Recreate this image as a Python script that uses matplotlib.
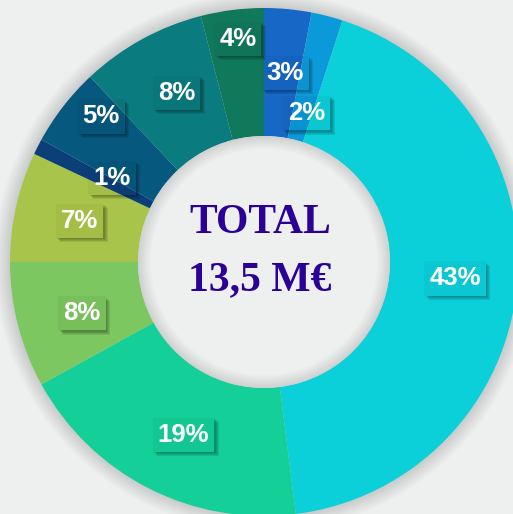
import matplotlib
matplotlib.use("Agg")
import matplotlib.pyplot as plt
from matplotlib.patches import Circle, Wedge, Polygon
import numpy as np

# --- data ---
shares = [3, 2, 43, 19, 8, 7, 1, 5, 8, 4]
labels = ["3%", "2%", "43%", "19%", "8%", "7%", "1%", "5%", "8%", "4%"]
colors = ["#1767C6", "#0A9AD9", "#0BCFD9", "#14CF98", "#7DC760",
          "#A9C44A", "#0C3F78", "#06587F", "#0A7B7E", "#10795C"]
center_lines = ["TOTAL", "13,5 M€"]

# label placement (fraction of outer radius, clockwise angle nudge in deg)
label_r = [0.75, 0.61, 0.755, 0.75, 0.745, 0.745, 0.685, 0.86, 0.75, 0.885]
label_da = [1, 1.5, -0.5, -2, -1.3, 0, 2, 4, 1.5, 0.5]

BG = "#EEF0F0"
W, H = 513, 514
cx, cy = 264, H - 262
r_out, r_in = 254, 126

fig = plt.figure(figsize=(W / 100, H / 100), dpi=100, facecolor=BG)
ax = fig.add_axes([0, 0, 1, 1])
ax.set_facecolor(BG)

# soft outer shadow
for i in range(12):
    ax.add_patch(Circle((cx, cy), r_out + (i + 1) * 1.3, fc="k", alpha=0.012, lw=0, zorder=0))

wedges, _ = ax.pie(shares, colors=colors, startangle=90, counterclock=False,
                   center=(cx, cy), radius=r_out,
                   wedgeprops=dict(width=r_out - r_in, linewidth=0), frame=True)
ax.set_xlim(0, W)
ax.set_ylim(0, H)
ax.set_aspect("equal")
ax.axis("off")

# hole with inner shadow
ax.add_patch(Circle((cx, cy), r_in, fc=BG, lw=0, zorder=3))
for i in range(10):
    ax.add_patch(Wedge((cx, cy), r_in, 0, 360, width=(i + 1) * 1.3,
                       fc="k", alpha=0.012, lw=0, zorder=3))

# percentage labels with translucent boxes
texts = []
for w, lab, rf, da in zip(wedges, labels, label_r, label_da):
    mid = np.deg2rad((w.theta1 + w.theta2) / 2 - da)
    x = cx + rf * r_out * np.cos(mid)
    y = cy + rf * r_out * np.sin(mid)
    t = ax.text(x, y, lab, ha="center", va="center", color="white",
                fontsize=18.5, fontweight="bold", family="Liberation Sans",
                bbox=dict(boxstyle="square,pad=0.2", fc=(0, 0, 0, 0.035), ec="none"),
                zorder=6)
    texts.append(t)

# drop shadow (right + bottom) outside each box
fig.canvas.draw()
inv = ax.transData.inverted()
for t in texts:
    bb = t.get_bbox_patch().get_window_extent()
    (x0, y0), (x1, y1) = inv.transform([[bb.x0, bb.y0], [bb.x1, bb.y1]])
    for d in [1.5, 2.5, 3.5, 4.5]:
        ax.add_patch(Polygon([(x0 + d, y0 - d), (x1 + d, y0 - d), (x1 + d, y1 - d),
                              (x1, y1 - d), (x1, y0), (x0 + d, y0)],
                             closed=True, fc="k", alpha=0.09, lw=0, zorder=5))

# center total
ax.text(cx - 4, H - 223, center_lines[0], ha="center", va="center", color="#2B0098",
        fontsize=30, fontweight="bold", family="Liberation Serif", zorder=6)
ax.text(cx - 4, H - 280, center_lines[1], ha="center", va="center", color="#2B0098",
        fontsize=30, fontweight="bold", family="Liberation Serif", zorder=6)

fig.savefig("out.png", dpi=100, facecolor=BG)
